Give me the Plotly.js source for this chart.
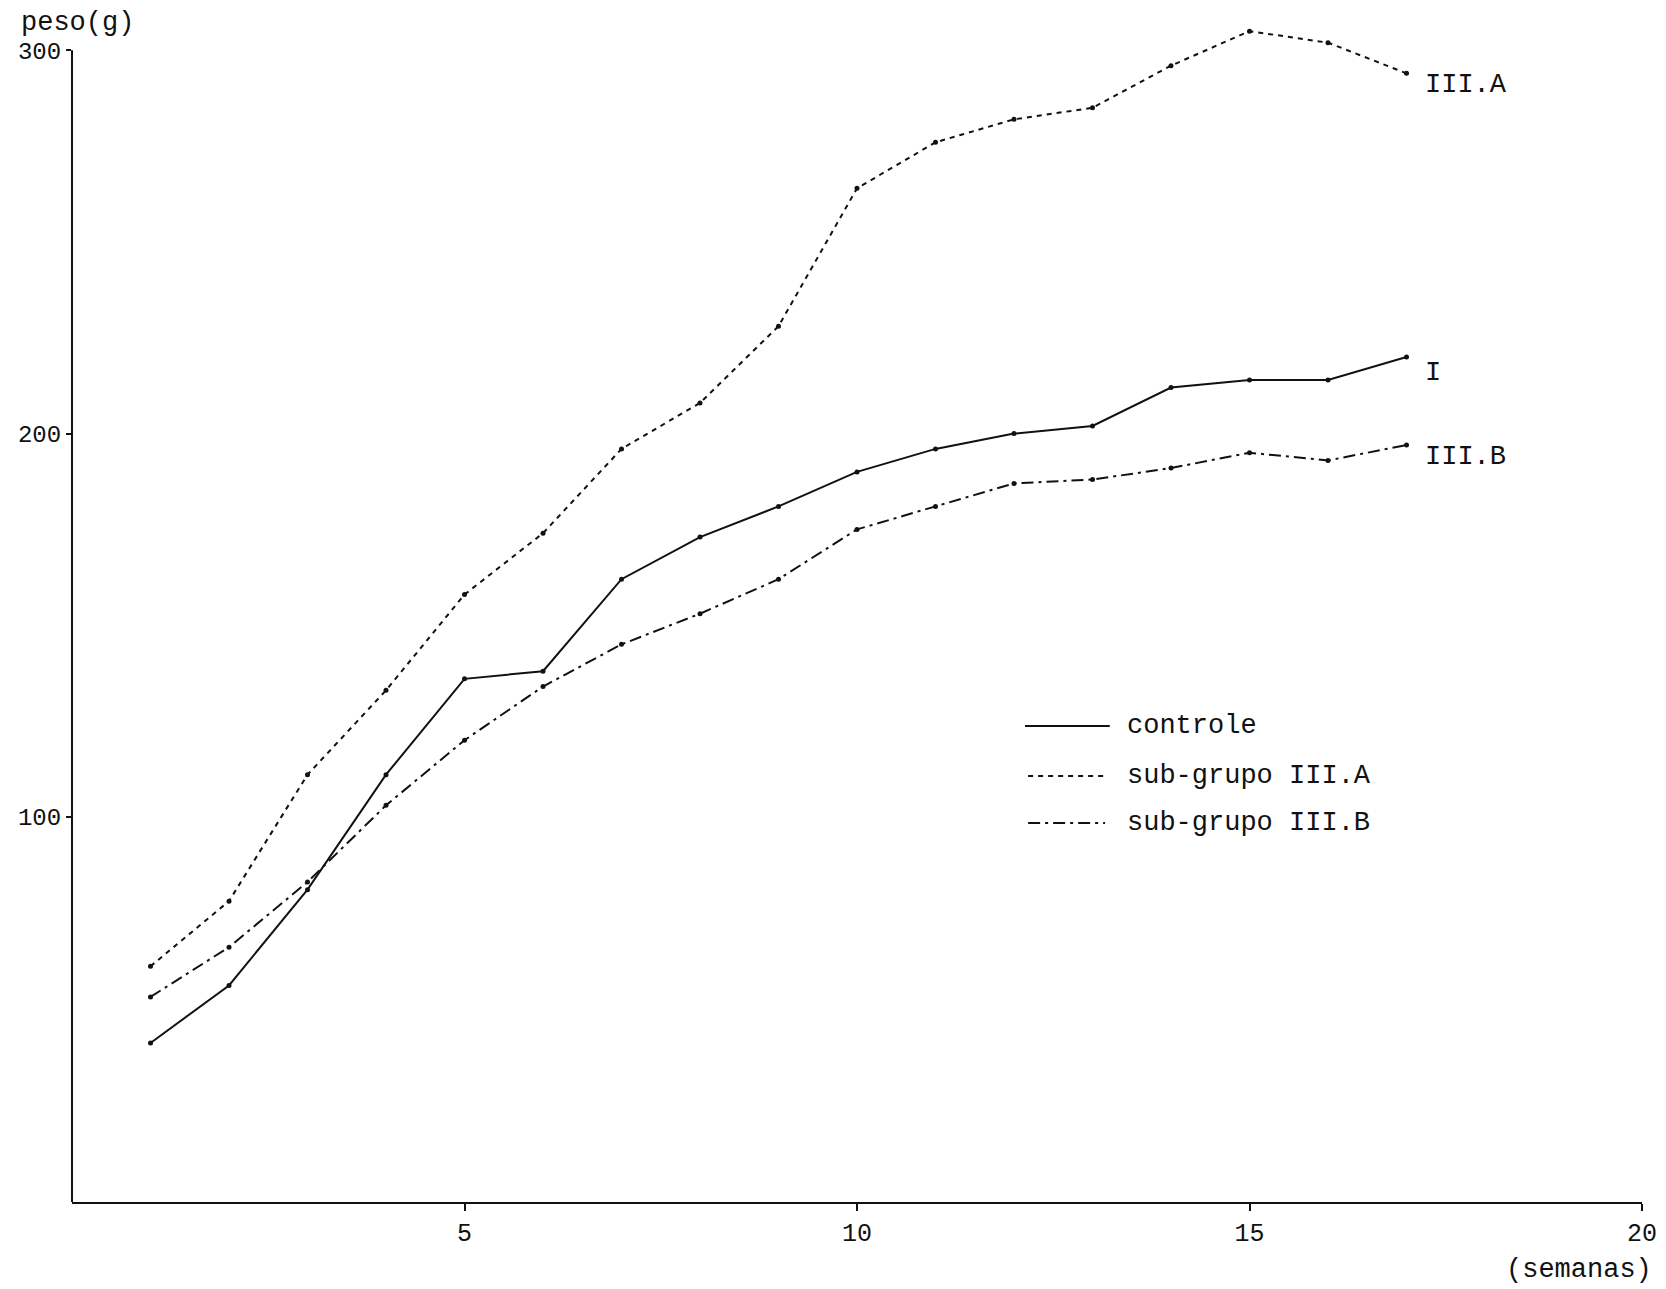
<!DOCTYPE html>
<html>
<head>
<meta charset="utf-8">
<script src="https://cdn.plot.ly/plotly-3.0.1.min.js"></script>
<style>
  html, body { margin: 0; padding: 0; background: #fff; }
  #chart { width: 1666px; height: 1289px; }
</style>
</head>
<body>
<div id="chart"></div>
<script>
// Data
const semanas = [1, 2, 3, 4, 5, 6, 7, 8, 9, 10, 11, 12, 13, 14, 15, 16, 17];
const controle = [41, 56, 81, 111, 136, 138, 162, 173, 181, 190, 196, 200, 202, 212, 214, 214, 220];
const grupoIIIA = [61, 78, 111, 133, 158, 174, 196, 208, 228, 264, 276, 282, 285, 296, 305, 302, 294];
const grupoIIIB = [53, 66, 83, 103, 120, 134, 145, 153, 162, 175, 181, 187, 188, 191, 195, 193, 197];
const xTicks = [5, 10, 15, 20];
const yTicks = [100, 200, 300];
const seriesNames = ["controle", "sub-grupo III.A", "sub-grupo III.B"];
const endLabels = ["I", "III.A", "III.B"];

const FONT = "Liberation Mono, Courier New, DejaVu Sans Mono, monospace";
const INK = "#111";

const dashes = ["solid", "5px,5px", "12px,5px,3px,5px"];
const ys = [controle, grupoIIIA, grupoIIIB];
const labelShift = [-16, -12, -12];

const traces = ys.map((y, i) => ({
  x: semanas,
  y: y,
  type: "scatter",
  mode: "lines+markers",
  name: seriesNames[i],
  line: { color: INK, width: 2, dash: dashes[i] },
  marker: { color: INK, size: 5 },
  showlegend: false,
  hoverinfo: "x+y"
}));

const annotations = [];
// End-of-line labels
ys.forEach((y, i) => {
  annotations.push({
    x: semanas[semanas.length - 1], y: y[y.length - 1],
    xref: "x", yref: "y",
    text: endLabels[i], showarrow: false,
    xanchor: "left", yanchor: "middle",
    xshift: 16, yshift: labelShift[i],
    font: { family: FONT, size: 27, color: INK }
  });
});
// Axis titles
annotations.push({
  x: -0.0338, y: 0.991, xref: "paper", yref: "paper",
  text: "peso(g)", showarrow: false, xanchor: "left", yanchor: "middle",
  font: { family: FONT, size: 27, color: INK }
});
annotations.push({
  x: 1, y: 0, xref: "paper", yref: "paper",
  text: "(semanas)", showarrow: false, xanchor: "right", yanchor: "middle",
  xshift: 12, yshift: -68,
  font: { family: FONT, size: 27, color: INK }
});

// Hand-drawn style legend
const legX0 = 0.607, legX1 = 0.661, legTextX = 0.671;
const legY = [0.400, 0.358, 0.3185];
const shapes = [];
seriesNames.forEach((nm, i) => {
  shapes.push({
    type: "line", xref: "paper", yref: "paper",
    x0: legX0 + (i ? 0.002 : 0), x1: legX1 - (i ? 0.003 : 0), y0: legY[i], y1: legY[i],
    line: { color: INK, width: 2, dash: dashes[i] }
  });
  annotations.push({
    x: legTextX, y: legY[i], xref: "paper", yref: "paper",
    text: nm, showarrow: false, xanchor: "left", yanchor: "middle",
    font: { family: FONT, size: 27, color: INK }
  });
});
// Y axis line from 0 to 300 only
shapes.push({
  type: "line", xref: "paper", yref: "y",
  x0: 0, x1: 0, y0: -0.5, y1: yTicks[yTicks.length - 1],
  line: { color: INK, width: 2 }
});

const layout = {
  width: 1666, height: 1289,
  margin: { l: 72, r: 24, t: 12, b: 87 },
  paper_bgcolor: "#fff", plot_bgcolor: "#fff",
  showlegend: false,
  xaxis: {
    range: [0, 20], tickvals: xTicks, ticktext: xTicks.map(String),
    showgrid: false, zeroline: false,
    showline: true, linecolor: INK, linewidth: 2,
    ticks: "outside", ticklen: 7, tickwidth: 2, tickcolor: INK,
    tickfont: { family: FONT, size: 25, color: INK }
  },
  yaxis: {
    range: [-0.5, 310], tickvals: yTicks, ticktext: yTicks.map(String),
    showgrid: false, zeroline: false, showline: false,
    ticks: "outside", ticklen: 5, tickwidth: 2, tickcolor: INK,
    tickfont: { family: FONT, size: 24, color: INK }
  },
  annotations: annotations,
  shapes: shapes
};

Plotly.newPlot("chart", traces, layout, { displayModeBar: false, staticPlot: true });
</script>
</body>
</html>
